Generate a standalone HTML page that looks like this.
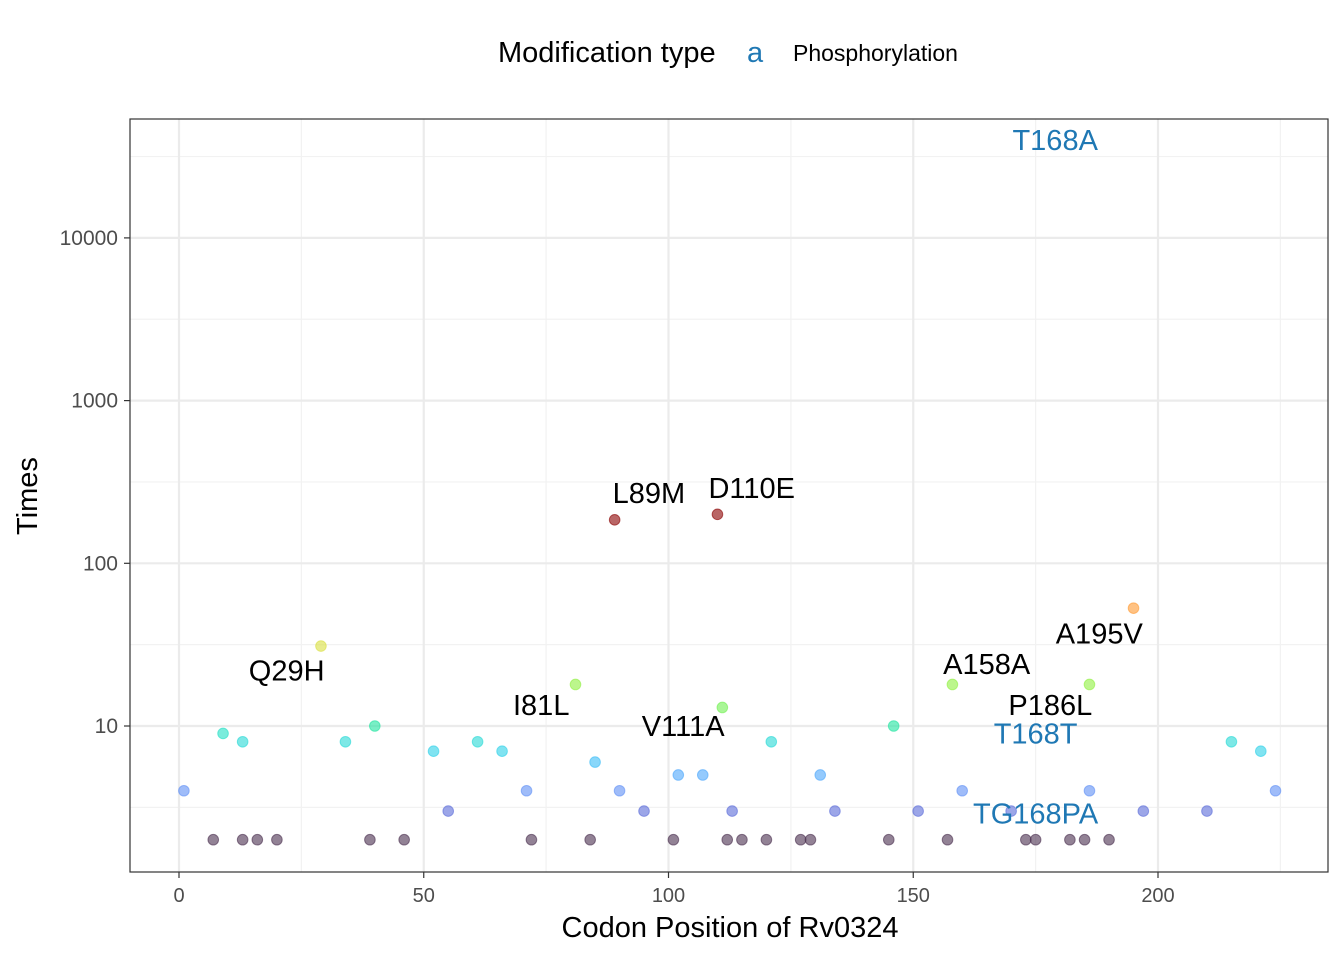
<!DOCTYPE html>
<html><head><meta charset="utf-8"><style>
body{margin:0;background:#fff;}
svg{display:block;font-family:"Liberation Sans",Arial,sans-serif;}
</style></head><body>
<svg id="chart" width="1344" height="960">
<rect x="0" y="0" width="1344" height="960" fill="#fff"/>
<g id="grid"></g><g id="pts"></g><g id="labels"></g><g id="axes"></g>
<text x="498" y="62" font-size="29">Modification type</text>
<text x="747" y="62" font-size="29" fill="#1f78b4">a</text>
<text x="793" y="61" font-size="23">Phosphorylation</text>
<text x="730" y="937" font-size="29" text-anchor="middle">Codon Position of Rv0324</text>
<text x="37" y="496" font-size="29" text-anchor="middle" transform="rotate(-90 37 496)">Times</text>
</svg>
<script>
const codons=[1,7,9,13,13,16,20,29,34,39,40,46,52,55,61,66,71,72,81,84,85,89,90,95,101,102,107,110,111,112,113,115,120,121,127,129,131,134,145,146,151,157,158,160,170,173,175,182,185,186,186,190,195,197,210,215,221,224];
const times=[4,2,9,8,2,2,2,31,8,2,10,2,7,3,8,7,4,2,18,2,6,185,4,3,2,5,5,200,13,2,3,2,2,8,2,2,5,3,2,10,3,2,18,4,3,2,2,2,2,4,18,2,53,3,3,8,7,4];
const labelText=["T168A","L89M","D110E","Q29H","A195V","A158A","I81L","P186L","V111A","T168T","TG168PA"];
const labelX=[179,96,117,22,188,165,74,178,103,175,175];
const labelY=[40000,270,290,22,37,24,13.5,13.5,10,9,2.9];
const labelBlue=[1,0,0,0,0,0,0,0,0,1,1];
const xTicks=[0,50,100,150,200];
const yTicks=[10,100,1000,10000];
const L=130,R=1328,T=119,B=872;
const xs=v=>179+v*4.895;
const ys=v=>726-(Math.log10(v)-1)*162.7;
const NS="http://www.w3.org/2000/svg";
function mk(tag,attrs,parent){const e=document.createElementNS(NS,tag);for(const k in attrs)e.setAttribute(k,attrs[k]);parent.appendChild(e);return e;}
const grid=document.getElementById('grid'),axes=document.getElementById('axes'),pts=document.getElementById('pts'),labs=document.getElementById('labels');
for(let v=25;v<=225;v+=50){const l=mk('line',{x1:xs(v),x2:xs(v),y1:T,y2:B,stroke:'#f2f2f2','stroke-width':1.2},grid);}
for(let e=0.5;e<=4.5;e+=1){const l=mk('line',{x1:L,x2:R,y1:ys(Math.pow(10,e)),y2:ys(Math.pow(10,e)),stroke:'#f2f2f2','stroke-width':1.2},grid);}
xTicks.forEach(v=>{const l=mk('line',{x1:xs(v),x2:xs(v),y1:T,y2:B,stroke:'#ebebeb','stroke-width':2.2},grid);
const t=mk('line',{x1:xs(v),x2:xs(v),y1:B,y2:B+6,stroke:'#333','stroke-width':1.2},axes);
const tx=mk('text',{x:xs(v),y:B+30,'font-size':20,fill:'#4d4d4d','text-anchor':'middle'},axes);tx.textContent=v;});
yTicks.forEach(v=>{const l=mk('line',{x1:L,x2:R,y1:ys(v),y2:ys(v),stroke:'#ebebeb','stroke-width':2.2},grid);
const t=mk('line',{x1:L-6,x2:L,y1:ys(v),y2:ys(v),stroke:'#333','stroke-width':1.2},axes);
const tx=mk('text',{x:L-12,y:ys(v)+7,'font-size':21,fill:'#4d4d4d','text-anchor':'end'},axes);tx.textContent=v;});
const frame=mk('rect',{x:L,y:T,width:R-L,height:B-T,fill:'none',stroke:'#333','stroke-width':1.2},axes);

const stops=[[2,'#4a2f4f'],[3,'#5a6ad8'],[4,'#5f8ff5'],[5.5,'#44b0ff'],[7,'#2cd0e8'],[9,'#22e0c4'],[10,'#20e4a0'],[13,'#70f050'],[18,'#90f040'],[31,'#d8e040'],[53,'#ff9a30'],[150,'#8b0000']];
function hex(h){return [1,3,5].map(i=>parseInt(h.substr(i,2),16));}
function color(v){if(v<=stops[0][0])return stops[0][1];for(let i=1;i<stops.length;i++){if(v<=stops[i][0]){const a=stops[i-1],b=stops[i];const f=(Math.log(v)-Math.log(a[0]))/(Math.log(b[0])-Math.log(a[0]));const c1=hex(a[1]),c2=hex(b[1]);return 'rgb('+c1.map((c,j)=>Math.round(c+(c2[j]-c)*f)).join(',')+')';}}return stops[stops.length-1][1];}
codons.forEach((c,i)=>{const p=mk('circle',{cx:xs(c),cy:ys(times[i]),r:5.3,fill:color(times[i]),'fill-opacity':0.6,stroke:color(times[i]),'stroke-opacity':0.6},pts);

});
labelText.forEach((s,i)=>{const t=mk('text',{x:xs(labelX[i]),y:ys(labelY[i])+10,'font-size':29,'text-anchor':'middle',fill:labelBlue[i]?'#1f78b4':'#000'},labs);t.textContent=s;

});
</script>
</body></html>
